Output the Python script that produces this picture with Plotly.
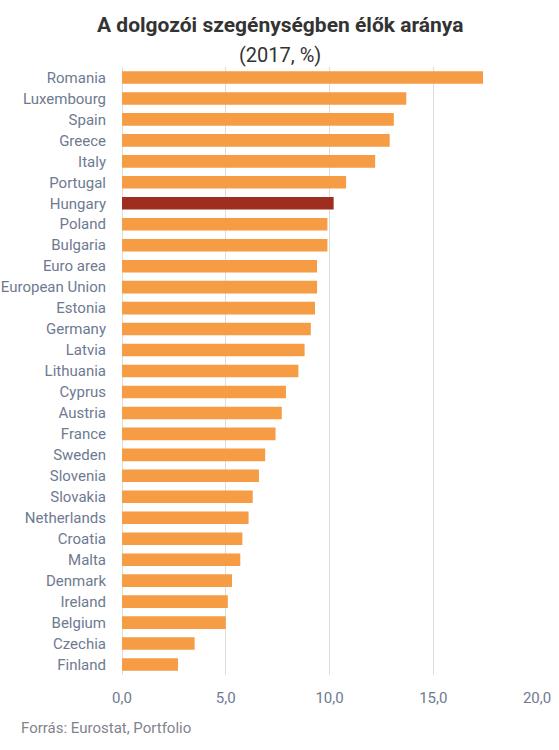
import plotly.graph_objects as go

countries = ["Romania", "Luxembourg", "Spain", "Greece", "Italy", "Portugal", "Hungary",
             "Poland", "Bulgaria", "Euro area", "European Union", "Estonia", "Germany",
             "Latvia", "Lithuania", "Cyprus", "Austria", "France", "Sweden", "Slovenia",
             "Slovakia", "Netherlands", "Croatia", "Malta", "Denmark", "Ireland",
             "Belgium", "Czechia", "Finland"]
values = [17.4, 13.7, 13.1, 12.9, 12.2, 10.8, 10.2,
          9.9, 9.9, 9.4, 9.4, 9.3, 9.1,
          8.8, 8.5, 7.9, 7.7, 7.4, 6.9, 6.6,
          6.3, 6.1, 5.8, 5.7, 5.3, 5.1,
          5.0, 3.5, 2.7]
highlight = "Hungary"
tick_vals = [0, 5, 10, 15, 20]
title_text = "A dolgozói szegénységben élők aránya"
subtitle_text = "(2017, %)"
source_text = "Forrás: Eurostat, Portfolio"

W, H = 559, 750
L, R, T, B = 122, 22, 67, 75
plot_w = W - L - R
plot_h = H - T - B


def px_x(x):
    return (x - L) / plot_w


def px_y(y):
    return (H - B - y) / plot_h


colors = ["#9E2F20" if c == highlight else "#F59C45" for c in countries]

fig = go.Figure(go.Bar(
    x=values, y=countries, orientation="h",
    marker=dict(color=colors, line=dict(width=0)),
    hoverinfo="x+y",
))

fig.update_layout(
    width=W, height=H,
    margin=dict(l=L, r=R, t=T, b=B, autoexpand=False),
    paper_bgcolor="white", plot_bgcolor="white",
    font=dict(family="Roboto", size=15, color="#6E7A91"),
    separators=", ",
    bargap=0.4,
    showlegend=False,
    annotations=[
        dict(text="<b>" + title_text + "</b>", x=px_x(W / 2), y=px_y(25),
             xref="paper", yref="paper", xanchor="center", yanchor="middle",
             showarrow=False, font=dict(size=21, color="#333333", family="Roboto")),
        dict(text=subtitle_text, x=px_x(W / 2), y=px_y(55),
             xref="paper", yref="paper", xanchor="center", yanchor="middle",
             showarrow=False, font=dict(size=20, color="#333333", family="Roboto")),
        dict(text=source_text, x=px_x(19), y=px_y(727.5),
             xref="paper", yref="paper", xanchor="left", yanchor="middle",
             showarrow=False, font=dict(size=15, color="#7F848E", family="Roboto")),
    ],
)

fig.update_xaxes(
    range=[0, 20], tickvals=tick_vals, tickformat=".1f",
    showgrid=True, gridcolor="#DDDDDD", gridwidth=1,
    zeroline=True, zerolinecolor="#DDDDDD", zerolinewidth=1,
    showline=False, ticks="", ticklabelstandoff=12,
    tickfont=dict(size=15, color="#6E7A91"), fixedrange=True,
)
fig.update_yaxes(
    categoryorder="array", categoryarray=countries[::-1],
    autorange=False, range=[-0.5, len(countries) - 0.5],
    showgrid=False, showline=False, ticks="", ticklabelstandoff=15,
    tickfont=dict(size=15, color="#6E7A91"), fixedrange=True,
)

fig.write_html(
    "out.html",
    config={"displayModeBar": False},
    post_script="document.body.style.margin='0';",
)
